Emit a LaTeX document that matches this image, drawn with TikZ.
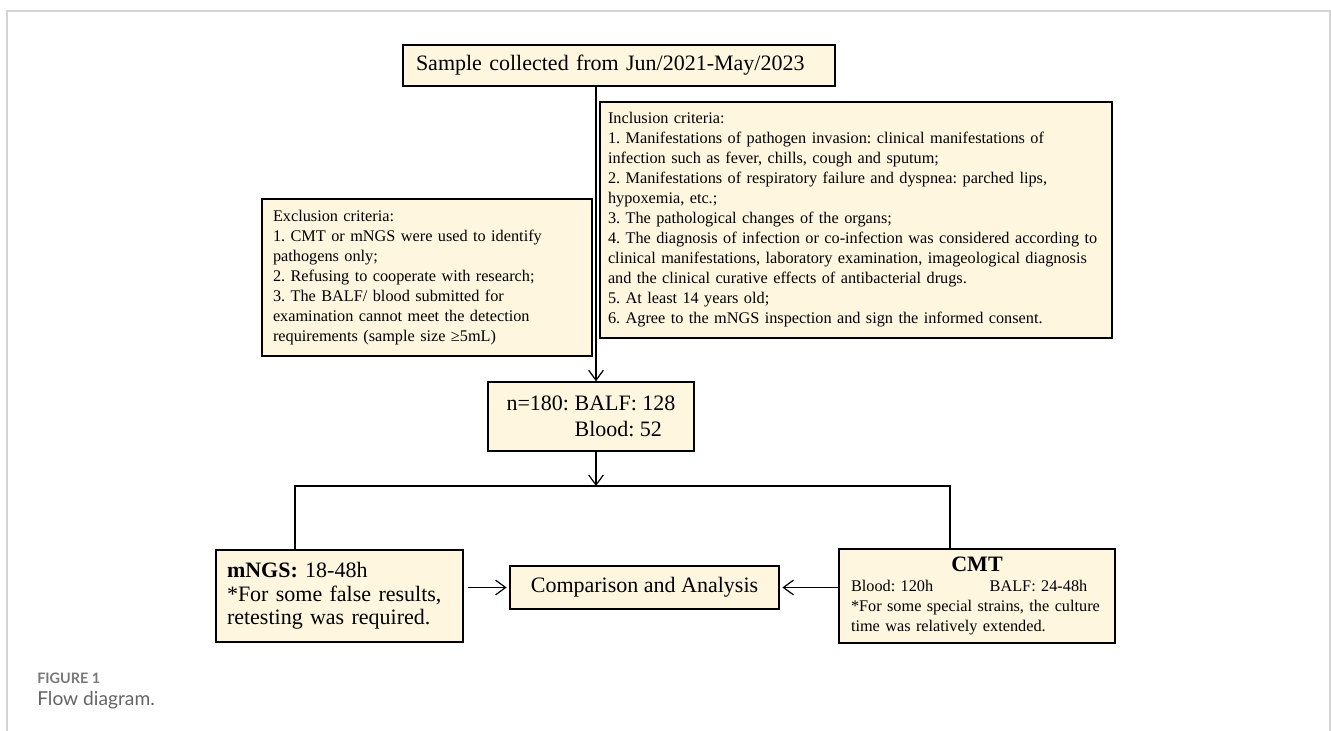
\documentclass[tikz,border=0pt]{standalone}
\usepackage{fontspec}
\setmainfont{Liberation Serif}
\newfontfamily\capfont{Lato}
\usetikzlibrary{arrows.meta,calc}
\definecolor{boxfill}{RGB}{255,246,224}
\definecolor{framegray}{RGB}{212,212,212}
\definecolor{capgray}{RGB}{120,120,120}
\definecolor{capgray2}{RGB}{100,100,100}
\frenchspacing
\begin{document}
\begin{tikzpicture}[x=0.75pt,y=-0.75pt,
  box/.style={draw=black,line width=1.1pt,fill=boxfill,inner sep=0pt},
  big/.style={font=\frenchspacing\fontsize{16.5}{19.5}\selectfont},
  small/.style={font=\frenchspacing\fontsize{12.2}{15}\selectfont},
  link/.style={line width=0.9pt},
  arr/.style={line width=0.9pt,-{Straight Barb[length=7.5pt,width=11pt,line width=0.9pt]}}]
\useasboundingbox (0,0) rectangle (1331,731);
\draw[framegray,line width=1.1pt] (7,731) -- (7,11) -- (1330,11) -- (1330,731);

\node[box,font=\frenchspacing\fontsize{16.5}{20}\selectfont,align=left,text width=406*0.75pt,minimum width=432*0.75pt,minimum height=41*0.75pt] (title) at (619,65.5)
  {Sample collected from Jun/2021-May/2023};

\node[box,small,align=left,text width=496*0.75pt,minimum width=512*0.75pt,minimum height=236*0.75pt] (incl) at (856,220)
  {Inclusion criteria:\\
   1. Manifestations of pathogen invasion: clinical manifestations of\\
   infection such as fever, chills, cough and sputum;\\
   2. Manifestations of respiratory failure and dyspnea: parched lips,\\
   hypoxemia, etc.;\\
   3. The pathological changes of the organs;\\
   4. The diagnosis of infection or co-infection was considered according to\\
   clinical manifestations, laboratory examination, imageological diagnosis\\
   and the clinical curative effects of antibacterial drugs.\\
   5. At least 14 years old;\\
   6. Agree to the mNGS inspection and sign the informed consent.};

\node[box,small,align=left,text width=308*0.75pt,minimum width=330*0.75pt,minimum height=157*0.75pt] (excl) at (427,277.5)
  {Exclusion criteria:\\
   1. CMT or mNGS were used to identify\\
   pathogens only;\\
   2. Refusing to cooperate with research;\\
   3. The BALF/ blood submitted for\\
   examination cannot meet the detection\\
   requirements (sample size ≥5mL)};

\node[box,big,align=left,minimum width=206*0.75pt,minimum height=69*0.75pt] (n180) at (591,416.5)
  {n=180: BALF: 128\\ \phantom{n=180: }Blood: 52};

\node[box,font=\frenchspacing\fontsize{16.5}{17.5}\selectfont,align=left,text width=225*0.75pt,minimum width=247*0.75pt,minimum height=92*0.75pt] (mngs) at (339.5,596)
  {\textbf{mNGS:} 18-48h\\ {*}For some false results,\\ retesting was required.};

\node[box,big,minimum width=269*0.75pt,minimum height=43*0.75pt] (comp) at (644.5,587.5)
  {Comparison and Analysis};

\node[box,small,align=left,text width=252*0.75pt,minimum width=276*0.75pt,minimum height=94*0.75pt] (cmt) at (977,596)
  {\hfill{\fontsize{16.5}{18}\selectfont\textbf{CMT}}\hfill\null\\
   \makebox[104pt][l]{Blood: 120h}BALF: 24-48h\\
   {*}For some special strains, the culture\\
   time was relatively extended.};

\coordinate (trunk) at (596,0);
\coordinate (split) at (596,486);
\coordinate (lc) at (295,486);
\coordinate (rc) at (950,486);

\draw[arr] (title.south -| trunk) -- (n180.north -| trunk);
\draw[arr] (n180.south -| trunk) -- (split);
\draw[link] (lc |- mngs.north) -- (lc) -- (rc) -- (rc |- cmt.north);
\draw[arr,shorten <=3pt,shorten >=2pt] (mngs.east |- comp.west) -- (comp.west);
\draw[arr,shorten >=2pt] (cmt.west |- comp.east) -- (comp.east);

\node[anchor=west,inner sep=0pt,text=capgray,font=\capfont\bfseries\fontsize{10.8}{12}\selectfont] (figlabel) at (37,678) {FIGURE 1};
\node[anchor=west,inner sep=0pt,text=capgray2,font=\capfont\fontsize{14.4}{16}\selectfont] (figcap) at (37,700) {Flow diagram.};
\end{tikzpicture}
\end{document}
